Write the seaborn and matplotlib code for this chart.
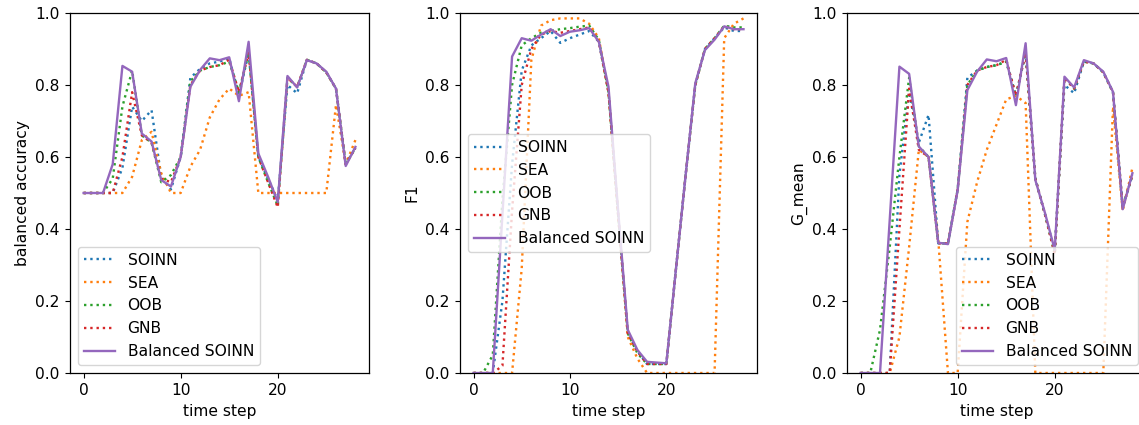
import numpy as np
import pandas as pd
import matplotlib
matplotlib.use("Agg")
import matplotlib.pyplot as plt
import seaborn as sns

plt.rcParams.update({
    "font.size": 11.2,
    "xtick.major.size": 3.9,
    "ytick.major.size": 3.9,
    "axes.linewidth": 0.9,
})

# time steps shared by all panels
steps = list(range(29))

methods = ["SOINN", "SEA", "OOB", "GNB", "Balanced SOINN"]

# balanced accuracy per method
bacc_soinn = [0.5, 0.5, 0.5, 0.5, 0.57, 0.74, 0.70, 0.73, 0.545, 0.51, 0.60, 0.82, 0.845, 0.86, 0.865,
              0.875, 0.77, 0.89, 0.60, 0.54, 0.48, 0.80, 0.777, 0.87, 0.86, 0.835, 0.79, 0.58, 0.625]
bacc_sea = [0.5, 0.5, 0.5, 0.5, 0.5, 0.545, 0.647, 0.67, 0.555, 0.5, 0.5, 0.573, 0.62, 0.71, 0.76,
            0.79, 0.77, 0.78, 0.5, 0.5, 0.5, 0.5, 0.5, 0.5, 0.5, 0.5, 0.745, 0.58, 0.647]
bacc_oob = [0.5, 0.5, 0.5, 0.54, 0.74, 0.84, 0.66, 0.64, 0.53, 0.55, 0.60, 0.81, 0.84, 0.85, 0.855,
            0.865, 0.78, 0.89, 0.60, 0.53, 0.465, 0.82, 0.795, 0.87, 0.86, 0.835, 0.79, 0.58, 0.625]
bacc_gnb = [0.5, 0.5, 0.5, 0.5, 0.60, 0.78, 0.66, 0.64, 0.54, 0.53, 0.60, 0.80, 0.84, 0.85, 0.855,
            0.87, 0.78, 0.89, 0.60, 0.53, 0.46, 0.82, 0.795, 0.87, 0.86, 0.835, 0.79, 0.58, 0.625]
bacc_bsoinn = [0.5, 0.5, 0.5, 0.58, 0.853, 0.837, 0.665, 0.643, 0.536, 0.518, 0.60, 0.795, 0.842, 0.874, 0.869,
               0.877, 0.755, 0.92, 0.61, 0.545, 0.475, 0.825, 0.793, 0.869, 0.86, 0.837, 0.79, 0.575, 0.628]

# F1 per method
f1_soinn = [0, 0, 0, 0.2, 0.58, 0.84, 0.91, 0.93, 0.95, 0.917, 0.93, 0.94, 0.95, 0.92, 0.78,
            0.44, 0.11, 0.06, 0.025, 0.025, 0.025, 0.29, 0.55, 0.80, 0.90, 0.93, 0.96, 0.95, 0.95]
f1_sea = [0, 0, 0, 0, 0, 0.29, 0.87, 0.965, 0.98, 0.985, 0.985, 0.985, 0.97, 0.93, 0.78,
          0.44, 0.10, 0.04, 0, 0, 0, 0, 0, 0, 0, 0, 0.93, 0.97, 0.985]
f1_oob = [0, 0, 0.05, 0.48, 0.80, 0.91, 0.93, 0.945, 0.95, 0.955, 0.958, 0.962, 0.965, 0.925, 0.78,
          0.44, 0.11, 0.055, 0.025, 0.025, 0.025, 0.29, 0.55, 0.80, 0.90, 0.93, 0.965, 0.96, 0.96]
f1_gnb = [0, 0, 0, 0.02, 0.45, 0.80, 0.90, 0.94, 0.95, 0.945, 0.95, 0.955, 0.96, 0.92, 0.78,
          0.44, 0.11, 0.06, 0.025, 0.025, 0.025, 0.29, 0.55, 0.80, 0.90, 0.93, 0.963, 0.955, 0.955]
f1_bsoinn = [0, 0, 0, 0.44, 0.879, 0.93, 0.923, 0.94, 0.955, 0.936, 0.948, 0.952, 0.958, 0.92, 0.795,
             0.45, 0.12, 0.064, 0.031, 0.029, 0.027, 0.29, 0.55, 0.805, 0.897, 0.926, 0.963, 0.955, 0.955]

# G-mean per method
gm_soinn = [0, 0, 0, 0, 0.55, 0.78, 0.64, 0.717, 0.36, 0.36, 0.51, 0.82, 0.84, 0.85, 0.855,
            0.865, 0.77, 0.89, 0.54, 0.44, 0.34, 0.80, 0.777, 0.865, 0.86, 0.835, 0.78, 0.46, 0.55]
gm_sea = [0, 0, 0, 0, 0.10, 0.35, 0.62, 0.60, 0.37, 0, 0, 0.42, 0.53, 0.62, 0.69,
          0.76, 0.77, 0.75, 0, 0, 0, 0, 0, 0, 0, 0, 0.74, 0.45, 0.57]
gm_oob = [0, 0, 0.12, 0.35, 0.60, 0.82, 0.63, 0.60, 0.36, 0.36, 0.51, 0.80, 0.84, 0.85, 0.855,
          0.865, 0.77, 0.89, 0.54, 0.44, 0.33, 0.82, 0.79, 0.865, 0.86, 0.835, 0.78, 0.46, 0.55]
gm_gnb = [0, 0, 0, 0, 0.40, 0.79, 0.62, 0.60, 0.36, 0.36, 0.51, 0.80, 0.84, 0.85, 0.855,
          0.87, 0.77, 0.89, 0.54, 0.44, 0.33, 0.82, 0.79, 0.865, 0.86, 0.835, 0.78, 0.46, 0.55]
gm_bsoinn = [0, 0, 0, 0.425, 0.851, 0.831, 0.629, 0.60, 0.362, 0.358, 0.508, 0.786, 0.837, 0.871, 0.866,
             0.875, 0.744, 0.916, 0.536, 0.444, 0.342, 0.823, 0.793, 0.869, 0.86, 0.837, 0.781, 0.455, 0.555]

panels = [
    ("balanced accuracy", [bacc_soinn, bacc_sea, bacc_oob, bacc_gnb, bacc_bsoinn], "lower left"),
    ("F1", [f1_soinn, f1_sea, f1_oob, f1_gnb, f1_bsoinn], "center left"),
    ("G_mean", [gm_soinn, gm_sea, gm_oob, gm_gnb, gm_bsoinn], "lower right"),
]

colors = ["tab:blue", "tab:orange", "tab:green", "tab:red", "tab:purple"]
styles = [":", ":", ":", ":", "-"]

fig = plt.figure(figsize=(11.39, 4.25), dpi=100)
lefts = [70 / 1139, 460 / 1139, 847 / 1139]
widths = [299 / 1139, 297 / 1139, 299 / 1139]
bottom, height = 52 / 425, 360 / 425

for (ylabel, series, loc), left, width in zip(panels, lefts, widths):
    ax = fig.add_axes([left, bottom, width, height])
    for name, vals, c, ls in zip(methods, series, colors, styles):
        df = pd.DataFrame({"time step": steps, "value": vals})
        sns.lineplot(data=df, x="time step", y="value", ax=ax, color=c,
                     linestyle=ls, linewidth=1.7, label=name)
    ax.set_ylim(0, 1.0)
    ax.set_xticks([0, 10, 20])
    ax.set_xlabel("time step")
    ax.set_ylabel(ylabel)
    ax.legend(loc=loc)

fig.savefig("out.png", dpi=100)
